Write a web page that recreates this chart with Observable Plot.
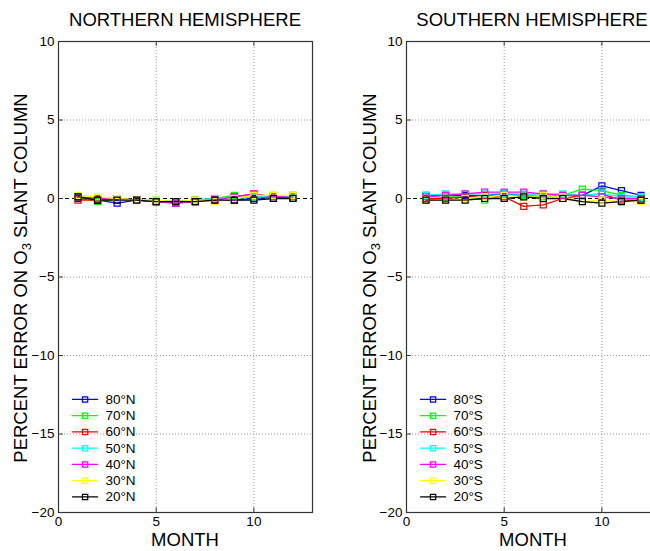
<!DOCTYPE html>
<html><head><meta charset="utf-8">
<script src="https://cdn.jsdelivr.net/npm/d3@7"></script>
<script src="https://cdn.jsdelivr.net/npm/@observablehq/plot@0.6"></script>
<style>
body{margin:0;overflow:hidden;background:#fff;font-family:"Liberation Sans",Arial,sans-serif;}
#wrap{position:relative;width:650px;height:551px;overflow:hidden;background:#fff;}
.panel{position:absolute;top:0;}
.lab{position:absolute;font-size:18.5px;line-height:1;white-space:nowrap;color:#000;transform:translate(-50%,-50%);}
.ylab{transform:translate(-50%,-50%) rotate(-90deg);}
.ylab sub{font-size:13px;vertical-align:-4px;line-height:0;}
</style>
</head><body>
<div id="wrap"></div>
<script>
const months = [1,2,3,4,5,6,7,8,9,10,11,12];
const colors = ["#0000ff","#00ff00","#ff0000","#00ffff","#ff00ff","#ffff00","#000000"];
const northNames = ["80°N","70°N","60°N","50°N","40°N","30°N","20°N"];
const southNames = ["80°S","70°S","60°S","50°S","40°S","30°S","20°S"];
const xTicks = [0,5,10];
const yTicks = [-20,-15,-10,-5,0,5,10];

const n80 = [0.0,-0.1,-0.3,-0.1,-0.2,-0.3,-0.2,-0.1,-0.1,0.0,0.1,0.1];
const n70 = [0.1,-0.2,0.0,-0.1,-0.1,-0.2,-0.1,0.0,0.2,0.1,0.2,0.1];
const n60 = [-0.1,-0.1,0.0,-0.1,-0.2,-0.2,-0.1,-0.1,0.1,0.3,0.1,0.0];
const n50 = [0.1,0.0,0.0,-0.1,-0.1,-0.2,-0.1,0.0,0.0,0.1,0.1,0.2];
const n40 = [0.1,0.0,0.0,-0.1,-0.2,-0.3,-0.2,-0.1,0.1,0.3,0.1,0.2];
const n30 = [0.2,0.1,0.0,-0.1,-0.1,-0.2,-0.1,-0.2,0.0,0.2,0.2,0.2];
const n20 = [0.1,-0.1,-0.1,-0.1,-0.2,-0.2,-0.2,-0.1,-0.1,-0.1,0.0,0.0];

const s80 = [0.2,0.2,0.2,0.2,0.3,0.2,0.2,0.2,0.2,0.8,0.5,0.2];
const s70 = [-0.1,0.1,0.1,-0.1,0.2,0.2,0.1,0.2,0.6,0.5,0.2,0.1];
const s60 = [0.0,0.0,0.1,0.2,0.1,-0.5,-0.4,0.0,0.2,0.3,-0.1,-0.1];
const s50 = [0.2,0.3,0.3,0.3,0.3,0.3,0.3,0.3,0.2,0.3,0.1,0.1];
const s40 = [0.1,0.2,0.3,0.4,0.4,0.4,0.3,0.2,0.2,0.1,0.0,0.0];
const s30 = [-0.1,-0.1,0.0,0.1,0.2,0.1,0.2,0.1,-0.2,-0.1,-0.2,-0.2];
const s20 = [-0.1,-0.1,-0.1,0.0,0.0,0.1,0.0,0.0,-0.2,-0.3,-0.2,-0.1];

const north = [n80,n70,n60,n50,n40,n30,n20];
const south = [s80,s70,s60,s50,s40,s30,s20];

function rows(series, names){
  const out = [];
  series.forEach((vals,i)=>vals.forEach((v,j)=>out.push({month:months[j], value:v, name:names[i], k:i})));
  return out;
}

function makePanel(series, names){
  const data = rows(series, names);
  const leg = names.map((n,i)=>({name:n, k:i, y:-12.8 - i*1.035}));
  const legLines = leg.flatMap(d=>[{k:d.k,x:0.72,y:d.y},{k:d.k,x:2.0,y:d.y}]);
  const font = {fontFamily:'"Liberation Sans",Arial,sans-serif', fontSize:"13.5px", background:"transparent", overflow:"visible", color:"#000"};
  return Plot.plot({
    width:340, height:551,
    marginLeft:58, marginRight:28, marginTop:41, marginBottom:39,
    style:font,
    x:{domain:[0,13]},
    y:{domain:[-20,10]},
    color:{domain:[0,1,2,3,4,5,6], range:colors},
    marks:[
      Plot.gridX([5,10], {stroke:"#999", strokeOpacity:1, strokeDasharray:"1,2"}),
      Plot.gridY([-15,-10,-5,5], {stroke:"#999", strokeOpacity:1, strokeDasharray:"1,2"}),
      Plot.ruleY([0], {stroke:"#000", strokeWidth:1.2, strokeDasharray:"4,3"}),
      Plot.ruleX([5,10], {y1:10, y2:9.7, stroke:"#333"}),
      Plot.ruleX([5,10], {y1:-20, y2:-19.7, stroke:"#333"}),
      Plot.ruleY([-15,-10,-5,0,5], {x1:0, x2:0.25, stroke:"#333"}),
      Plot.line(data, {x:"month", y:"value", z:"k", stroke:"k", strokeWidth:1.3}),
      Plot.dot(data, {x:"month", y:"value", stroke:"k", symbol:"square", r:3.4, strokeWidth:1.2, fill:"none"}),
      Plot.line(legLines, {x:"x", y:"y", z:"k", stroke:"k", strokeWidth:1.3}),
      Plot.dot(leg, {x:1.36, y:"y", stroke:"k", symbol:"square", r:3, strokeWidth:1.2, fill:"none"}),
      Plot.text(leg, {x:2.4, y:"y", text:"name", textAnchor:"start", fill:"#000", fontSize:13.5}),
      Plot.frame({stroke:"#333", strokeWidth:1.2}),
      Plot.axisY({ticks:yTicks, tickSize:0, tickPadding:4, label:null, fill:"#000"}),
      Plot.axisX({ticks:xTicks, tickSize:0, tickPadding:4, label:null, fill:"#000"})
    ]
  });
}

const wrap = document.getElementById("wrap");
const p1 = makePanel(north, northNames);
p1.classList.add("panel"); p1.style.left = "0px";
wrap.appendChild(p1);
const p2 = makePanel(south, southNames);
p2.classList.add("panel"); p2.style.left = "348px";
wrap.appendChild(p2);

function label(html, x, y, cls){
  const d = document.createElement("div");
  d.className = "lab" + (cls ? " " + cls : "");
  d.innerHTML = html;
  d.style.left = x + "px"; d.style.top = y + "px";
  wrap.appendChild(d);
}
label("NORTHERN HEMISPHERE", 185, 20);
label("SOUTHERN HEMISPHERE", 532, 20);
label("MONTH", 185, 540);
label("MONTH", 533, 540);
label("PERCENT ERROR ON O<sub>3</sub> SLANT COLUMN", 21, 278, "ylab");
label("PERCENT ERROR ON O<sub>3</sub> SLANT COLUMN", 370, 278, "ylab");
</script>
</body></html>
